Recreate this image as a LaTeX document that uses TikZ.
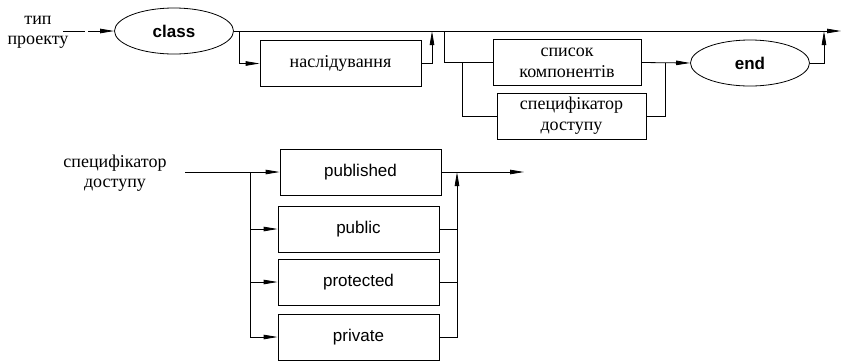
\documentclass[tikz,border=0pt]{standalone}
\usepackage{fontspec}
\setmainfont{Liberation Serif}
\setsansfont{Liberation Sans}
\newfontfamily\cyrserif{Liberation Serif}
\usetikzlibrary{shapes.geometric}
\usetikzlibrary{arrows.meta}

\begin{document}
\begin{tikzpicture}[x=1pt,y=-1pt,line width=0.8pt,
	>={Triangle[length=14pt,width=4.5pt]},
	term/.style={ellipse,draw,inner sep=0pt,minimum width=119pt,minimum height=46pt,
		font=\sffamily\bfseries\fontsize{17}{20}\selectfont},
	kw box/.style={rectangle,draw,minimum width=161pt,minimum height=46pt,
		font=\sffamily\fontsize{17}{20}\selectfont},
	nt box/.style={rectangle,draw,inner sep=0pt,minimum height=46pt,align=center,
		font=\cyrserif\fontsize{18}{21}\selectfont},
	label text/.style={align=center,font=\cyrserif\fontsize{18}{20}\selectfont}]

	\useasboundingbox (0,0) rectangle (841,360);

	% type of project
	\node[label text] (title1) at (38,32) {тип\\проекту};
	\node[term] (class) at (174,31) {class};
	\node[nt box,minimum width=161pt] (inherit) at (340.5,63.5) {наслідування};
	\node[nt box,minimum width=148pt] (members) at (567,62.5) {список\\компонентів};
	\node[nt box,minimum width=149pt] (access) at (571.5,116) {специфікатор\\доступу};
	\node[term] (end) at (750,63) {end};

	\coordinate (in1) at (63,31);
	\coordinate (gap1) at (85,31);
	\coordinate (gap2) at (88,31);
	\coordinate (out1) at (841,31);
	\coordinate (fork1) at (239,31);
	\coordinate (join1) at (432,31);
	\coordinate (fork2) at (444,31);
	\coordinate (fork3) at (462,62.5);
	\coordinate (join2) at (665,63);
	\coordinate (join3) at (824,31);

	\draw (in1) -- (gap1);
	\draw[->] (gap2) -- (class.west);
	\draw[->] (class.east) -- (out1);
	\draw[->] (fork1) |- (inherit.west);
	\draw[->] (inherit.east) -| (join1);
	\draw (fork2) |- (members.west);
	\draw (fork3) |- (access.west);
	\draw[->] (members.east) -- (end.west);
	\draw (access.east) -| (join2);
	\draw[->] (end.east) -| (join3);

	% access specifier
	\node[label text] (title2) at (115,173) {специфікатор\\доступу};
	\node[kw box] (published) at (360.5,172) {published};
	\node[kw box] (public) at (358.5,229) {public};
	\node[kw box] (protected) at (358.5,282) {protected};
	\node[kw box] (private) at (358.5,337) {private};

	\coordinate (in2) at (185,172);
	\coordinate (fork4) at (250,172);
	\coordinate (join4) at (457,172);
	\coordinate (out2) at (524,172);

	\draw[->] (in2) -- (published.west);
	\draw[->] (fork4) |- (public.west);
	\draw[->] (fork4) |- (protected.west);
	\draw[->] (fork4) |- (private.west);
	\draw (public.east) -- (public.east -| join4);
	\draw (protected.east) -- (protected.east -| join4);
	\draw[->] (private.east) -| (join4);
	\draw[->] (published.east) -- (out2);
\end{tikzpicture}
\end{document}
